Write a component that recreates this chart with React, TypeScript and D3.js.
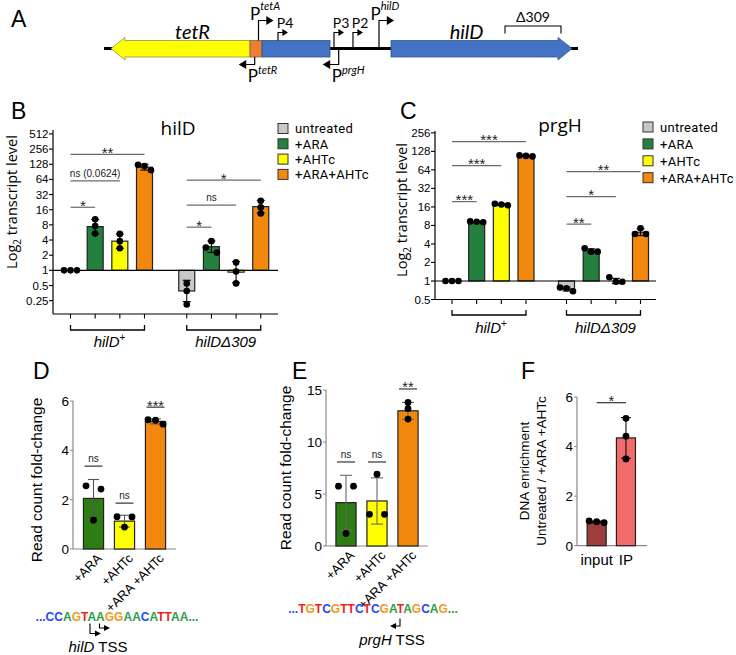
import * as d3 from "d3";

const SANS = "'Liberation Sans', Arial, Helvetica, sans-serif";
const SOFT = "'Open Sans', 'Noto Sans', sans-serif";
const LEGEND = "Roboto, 'Open Sans', sans-serif";
const DIAGRAM = "Lato, 'Open Sans', sans-serif";

// ---------- panel A: locus map (relative map units) ----------
const mapLength = 474;
const genes = [
  { name: "tetR", from: 146, to: 7, fill: "#ffff00", stroke: "#8f8f55" },
  { name: "hilD", from: 287, to: 468, fill: "#4472c4", stroke: "#2f528f" },
];
const blocks = [
  { name: "tetO", from: 146, to: 158, fill: "#ed7d31", stroke: "#8f6040" },
  { name: "tetA", from: 158, to: 226, fill: "#4472c4", stroke: "#2f528f" },
];
const promoters = [
  { label: "P", sup: "tetA", at: 154.5, strand: 1, long: true },
  { label: "P4", sup: "", at: 174, strand: 1, long: false },
  { label: "P3", sup: "", at: 230, strand: 1, long: false },
  { label: "P2", sup: "", at: 249, strand: 1, long: false },
  { label: "P", sup: "hilD", at: 275, strand: 1, long: true },
  { label: "P", sup: "tetR", at: 150.7, strand: -1, long: false },
  { label: "P", sup: "prgH", at: 234.7, strand: -1, long: false },
];
const deletion = { label: "Δ309", from: 401, to: 457 };

// ---------- panels B, C: qRT-PCR ----------
const conditions = ["untreated", "+ARA", "+AHTc", "+ARA+AHTc"];
const conditionColors = ["#c8c8c8", "#23803f", "#ffff00", "#f2880e"];
const strains = ["hilD+", "hilDΔ309"];
const log2Ticks = [0.25, 0.5, 1, 2, 4, 8, 16, 32, 64, 128, 256, 512];

const hilDLevels = [1, 7.4, 3.8, 112, 0.39, 2.95, 0.92, 18.4];
const hilDReplicates = [
  [1, 1, 1], [10.3, 7.6, 5.4], [5.3, 3.8, 2.75], [125, 118, 97],
  [0.55, 0.39, 0.21], [3.8, 2.85, 2.25], [1.44, 0.95, 0.55], [24, 17.8, 13.5],
];
const hilDTests = [
  { from: 0, to: 1, label: "*", at: 17.9 },
  { from: 0, to: 2, label: "ns (0.0624)", at: 59.6 },
  { from: 0, to: 3, label: "**", at: 202 },
  { from: 4, to: 5, label: "*", at: 7.2 },
  { from: 4, to: 6, label: "ns", at: 19.8 },
  { from: 4, to: 7, label: "*", at: 62 },
];

const prgHLevels = [1, 9.1, 17.5, 108, 0.74, 3.1, 1.0, 6.2];
const prgHReplicates = [
  [1, 1, 1], [9.0, 9.3, 9.2], [17, 18, 17.5], [106, 108, 110],
  [0.78, 0.76, 0.68], [3.4, 3.0, 3.0], [1.15, 0.97, 0.97], [7.2, 5.8, 5.8],
];
const prgHTests = [
  { from: 0, to: 1, label: "***", at: 19.5 },
  { from: 0, to: 2, label: "***", at: 75 },
  { from: 0, to: 3, label: "***", at: 185 },
  { from: 4, to: 5, label: "**", at: 8.4 },
  { from: 4, to: 6, label: "*", at: 23.5 },
  { from: 4, to: 7, label: "**", at: 60 },
];

// ---------- panels D, E: read counts ----------
const readConditions = ["+ARA", "+AHTc", "+ARA +AHTc"];
const readColors = ["#2d7d14", "#ffff00", "#f2880e"];
const hilDReads = [2.05, 1.13, 5.17];
const hilDReadReplicates = [[2.56, 2.43, 1.17], [1.31, 1.3, 0.89], [5.06, 5.24, 5.22]];
const hilDReadTests = [
  { from: 0, to: 0, label: "ns", at: 3.36 },
  { from: 1, to: 1, label: "ns", at: 1.86 },
  { from: 2, to: 2, label: "***", at: 5.75 },
];
const prgHReads = [4.17, 4.33, 13.0];
const prgHReadReplicates = [[5.75, 5.75, 1.2], [6.9, 3.05, 3.05], [13.8, 13.2, 12.2]];
const prgHReadTests = [
  { from: 0, to: 0, label: "ns", at: 8.08 },
  { from: 1, to: 1, label: "ns", at: 8.08 },
  { from: 2, to: 2, label: "**", at: 15.1 },
];

// ---------- panel F: ChIP ----------
const chipSamples = ["input", "IP"];
const chipColors = ["#9e3d3d", "#f26b6b"];
const chipEnrichment = [0.96, 4.35];
const chipReplicates = [[0.93, 1.0, 0.97], [5.14, 4.42, 3.5]];
const chipTests = [{ from: 0, to: 1, label: "*", at: 5.77 }];

// ---------- sequences ----------
const hilDSequence = "CCAGTAAGGAACATTAA";
const prgHSequence = "TGTCGTTCTCGATAGCAG";
const baseColors: Record<string, string> = { A: "#2e9b47", C: "#1f48ff", G: "#f39a1d", T: "#f01f1f" };

function spreadDots(vals: number[], y: (v: number) => number, cx: number, pair: number, triple: number) {
  const pts = vals.map((v) => ({ y: y(v) })).sort((a, b) => a.y - b.y);
  const clusters: { y: number }[][] = [];
  pts.forEach((p) => {
    const last = clusters[clusters.length - 1];
    if (last && p.y - last[last.length - 1].y < 5.5) last.push(p);
    else clusters.push([p]);
  });
  const out: { x: number; y: number }[] = [];
  clusters.forEach((c) => {
    const step = c.length === 2 ? pair : triple;
    c.forEach((p, k) => out.push({ x: cx + (k - (c.length - 1) / 2) * step, y: p.y }));
  });
  return out;
}

function TestMark({ x1, x2, y, label, fs, color }: any) {
  const star = label.startsWith("*");
  return (
    <g>
      <line x1={x1} x2={x2} y1={y} y2={y} stroke={color} strokeWidth={1.2} />
      <text x={(x1 + x2) / 2} y={star ? y + 3.5 : y - 4} textAnchor="middle"
        fontSize={star ? fs : 10} fill="#222">{label}</text>
    </g>
  );
}

function StrainLabel({ name, x, y }: any) {
  const sup = name.endsWith("+");
  return (
    <text x={x} y={y} textAnchor="middle" fontSize={15} fontStyle="italic">
      {sup ? name.slice(0, -1) : name}
      {sup && <tspan dy={-6} fontSize={10} fontStyle="normal">+</tspan>}
    </text>
  );
}

function PanelA() {
  const x = d3.scaleLinear().domain([0, mapLength]).range([104, 578]);
  const lineY = 48.5;
  const top = 40.5, bottom = 57;
  const arrowPath = (from: number, to: number, head: number) => {
    const dir = to > from ? 1 : -1;
    const a = x(from), b = x(to), hb = b - dir * head;
    return `M${a},${top}L${hb},${top}L${hb},${top - 3}L${b},${lineY}L${hb},${bottom + 3}L${hb},${bottom}L${a},${bottom}Z`;
  };
  return (
    <g fontFamily={DIAGRAM}>
      <line x1={x(0)} x2={x(mapLength)} y1={lineY} y2={lineY} stroke="#000" strokeWidth={2.8} />
      {genes.map((g) => (
        <g key={g.name}>
          <path d={arrowPath(g.from, g.to, 14)} fill={g.fill} stroke={g.stroke} strokeWidth={0.8} />
          <text x={(x(g.from) + x(g.to)) / 2 + (g.to > g.from ? -15 : 12)} y={38.5} textAnchor="middle"
            fontSize={20} fontStyle="italic">{g.name}</text>
        </g>
      ))}
      {blocks.map((b) => (
        <rect key={b.name} x={x(b.from)} y={top} width={x(b.to) - x(b.from)} height={bottom - top}
          fill={b.fill} stroke={b.stroke} strokeWidth={0.8} />
      ))}
      {promoters.map((p) => {
        const px = x(p.at);
        const onBlock = blocks.some((b) => p.at >= b.from && p.at <= b.to);
        if (p.strand > 0) {
          const base = onBlock ? top : lineY;
          const tip = p.long ? 20.5 : 32.5;
          const len = p.long ? 15 : 10;
          const hs = p.long ? 4.5 : 3.5;
          return (
            <g key={p.label + p.sup + p.at}>
              <polyline points={`${px},${base} ${px},${tip} ${px + len - hs * 1.4},${tip}`} fill="none" stroke="#000" strokeWidth={1.2} />
              <polygon points={`${px + len},${tip} ${px + len - hs * 1.6},${tip - hs} ${px + len - hs * 1.6},${tip + hs}`} />
              {p.sup ? (
                <text x={px - 8.5} y={tip - 1} fontSize={17}>
                  {p.label}
                  <tspan dy={-10} fontSize={11} fontStyle="italic">{p.sup}</tspan>
                </text>
              ) : (
                <text x={px + 7} y={28} fontSize={14} textAnchor="middle">{p.label}</text>
              )}
            </g>
          );
        }
        const base = onBlock ? bottom : lineY;
        const tip = 64.5;
        return (
          <g key={p.label + p.sup + p.at}>
            <polyline points={`${px},${base} ${px},${tip} ${px - 10},${tip}`} fill="none" stroke="#000" strokeWidth={1.2} />
            <polygon points={`${px - 16},${tip} ${px - 8.5},${tip - 4.5} ${px - 8.5},${tip + 4.5}`} />
            <text x={px - 7} y={81.5} fontSize={17}>
              {p.label}
              <tspan dy={-7.5} fontSize={11} fontStyle="italic">{p.sup}</tspan>
            </text>
          </g>
        );
      })}
      <path d={`M${x(deletion.from)},33.5V26H${x(deletion.to)}V33.5`} fill="none" stroke="#000" strokeWidth={1.1} />
      <text x={(x(deletion.from) + x(deletion.to)) / 2} y={22} textAnchor="middle" fontSize={14}>{deletion.label}</text>
    </g>
  );
}

function TranscriptPanel(props: any) {
  const { levels, replicates, tests, y, axisX, axisRight, bottomY, groupRange, title, titleX, titleY,
    legendX, legendTop, legendStep, labelX, labelY, bracketY, groupTextY } = props;
  const outer = d3.scalePoint<string>().domain(strains).range(groupRange);
  const inner = d3.scalePoint<string>().domain(conditions).range([-37, 37]);
  const cx = (i: number) => (outer(strains[Math.floor(i / 4)]) as number) + (inner(conditions[i % 4]) as number);
  const barW = 16;
  const base = y(1);
  const [top] = y.range().slice(-1);
  const ticks = log2Ticks.filter((t) => y(t) >= top - 1 && y(t) <= bottomY + 0.5);
  return (
    <g fontFamily={SANS}>
      <text x={titleX} y={titleY} textAnchor="middle" fontSize={19} fontFamily={SOFT}>{title}</text>
      <text transform={`translate(${labelX},${labelY}) rotate(-90)`} textAnchor="middle" dy="0.35em"
        fontSize={14.5} fontFamily={SOFT}>
        Log<tspan fontSize={10} dy={4}>2</tspan><tspan dy={-4}> transcript level</tspan>
      </text>
      <line x1={axisX} x2={axisX} y1={top} y2={bottomY} stroke="#000" strokeWidth={1.2} />
      {ticks.map((t) => (
        <g key={t}>
          <line x1={axisX - 4} x2={axisX} y1={y(t)} y2={y(t)} stroke="#000" strokeWidth={1.1} />
          <text x={axisX - 4.5} y={y(t)} dy="0.35em" textAnchor="end" fontSize={11.5}>{t}</text>
        </g>
      ))}
      <line x1={axisX} x2={axisRight} y1={bottomY} y2={bottomY} stroke="#000" strokeWidth={1.2} />
      {levels.map((_: number, i: number) => (
        <line key={i} x1={cx(i)} x2={cx(i)} y1={bottomY} y2={bottomY + 4.5} stroke="#000" strokeWidth={1.1} />
      ))}
      {levels.map((v: number, i: number) => {
        const yv = y(v);
        if (Math.abs(yv - base) < 0.5) return null;
        return (
          <rect key={i} x={cx(i) - barW / 2} y={Math.min(yv, base)} width={barW} height={Math.abs(yv - base)}
            fill={conditionColors[i % 4]} stroke="#222" strokeWidth={1.2} />
        );
      })}
      <line x1={axisX} x2={axisRight} y1={base} y2={base} stroke="#000" strokeWidth={1.2} />
      {levels.map((v: number, i: number) => {
        const logs = replicates[i].map(Math.log2);
        const sd = d3.deviation(logs) ?? 0;
        if (sd < 0.01) return null;
        const hi = y(2 ** (Math.log2(v) + sd));
        const lo = y(2 ** (Math.log2(v) - sd));
        return (
          <g key={i} stroke="#000" strokeWidth={1.1}>
            <line x1={cx(i)} x2={cx(i)} y1={hi} y2={lo} />
            <line x1={cx(i) - 4} x2={cx(i) + 4} y1={hi} y2={hi} />
            <line x1={cx(i) - 4} x2={cx(i) + 4} y1={lo} y2={lo} />
          </g>
        );
      })}
      {replicates.map((vals: number[], i: number) =>
        spreadDots(vals, y, cx(i), 11, 6.5).map((d, k) => <circle key={`${i}-${k}`} cx={d.x} cy={d.y} r={3.3} fill="#000" />)
      )}
      {tests.map((t: any, k: number) => (
        <TestMark key={k} x1={cx(t.from)} x2={cx(t.to)} y={y(t.at)} label={t.label} fs={15} color="#6a6a6a" />
      ))}
      {strains.map((s, g) => {
        const a = cx(g * 4), b = cx(g * 4 + 3);
        return (
          <g key={s}>
            <path d={`M${a},${bracketY - 5}V${bracketY}H${b}V${bracketY - 5}`} fill="none" stroke="#000" strokeWidth={1.3} />
            <StrainLabel name={s} x={(a + b) / 2 + 2} y={groupTextY} />
          </g>
        );
      })}
      {conditions.map((c, i) => (
        <g key={c} fontFamily={LEGEND}>
          <rect x={legendX} y={legendTop + i * legendStep - 5} width={10} height={10}
            fill={conditionColors[i]} stroke="#333" strokeWidth={1} />
          <text x={legendX + 17} y={legendTop + i * legendStep + 4.8} fontSize={13} letterSpacing={0.3}>{c}</text>
        </g>
      ))}
    </g>
  );
}

function ReadPanel(props: any) {
  const { cats, colors, values, replicates, tests, domain, yRange, xRange, axisX, axisEnd, ticks, rotate,
    labelLines, labelX, labelY, labelSize, capHalf, errColor } = props;
  const y = d3.scaleLinear().domain(domain).range(yRange);
  const x = d3.scaleBand<string>().domain(cats).range(xRange).paddingInner(0.35).paddingOuter(0.175);
  const bw = x.bandwidth();
  const cx = (i: number) => (x(cats[i]) as number) + bw / 2;
  const y0 = y(0);
  return (
    <g fontFamily={SANS}>
      <text transform={`translate(${labelX},${labelY}) rotate(-90)`} textAnchor="middle" fontSize={labelSize}>
        {labelLines.map((l: string, k: number) => (
          <tspan key={k} x={0} dy={k === 0 ? (labelLines.length > 1 ? "-0.3em" : "0.35em") : "1.3em"}>{l}</tspan>
        ))}
      </text>
      <line x1={axisX} x2={axisX} y1={y(domain[1])} y2={y0} stroke="#8a8a8a" strokeWidth={1.2} />
      <line x1={axisX} x2={axisEnd} y1={y0} y2={y0} stroke="#8a8a8a" strokeWidth={1.2} />
      {ticks.map((t: number) => (
        <g key={t}>
          <line x1={axisX - 3} x2={axisX} y1={y(t)} y2={y(t)} stroke="#8a8a8a" />
          <text x={axisX - 4} y={y(t)} dy="0.36em" textAnchor="end" fontSize={13.5}>{t}</text>
        </g>
      ))}
      {values.map((v: number, i: number) => (
        <rect key={i} x={cx(i) - bw / 2} y={y(v)} width={bw} height={y0 - y(v)} fill={colors[i]} stroke="#222" strokeWidth={1.2} />
      ))}
      {values.map((v: number, i: number) => {
        const sd = d3.deviation(replicates[i]) ?? 0;
        const hi = y(v + sd), lo = y(Math.max(0, v - sd));
        return (
          <g key={i} stroke={errColor} strokeWidth={1.1}>
            <line x1={cx(i)} x2={cx(i)} y1={hi} y2={lo} />
            <line x1={cx(i) - capHalf} x2={cx(i) + capHalf} y1={hi} y2={hi} />
            <line x1={cx(i) - capHalf} x2={cx(i) + capHalf} y1={lo} y2={lo} />
          </g>
        );
      })}
      {replicates.map((vals: number[], i: number) =>
        spreadDots(vals, y, cx(i), 15, 7.5).map((d, k) => <circle key={`${i}-${k}`} cx={d.x} cy={d.y} r={3.4} fill="#000" />)
      )}
      {tests.map((t: any, k: number) => {
        const single = t.from === t.to;
        return (
          <TestMark key={k} x1={single ? cx(t.from) - 9 : cx(t.from)} x2={single ? cx(t.to) + 9 : cx(t.to)}
            y={y(t.at)} label={t.label} fs={14.5} color="#333" />
        );
      })}
      {cats.map((c: string, i: number) =>
        rotate ? (
          <text key={c} transform={`translate(${cx(i) + 6},${y0 + 7}) rotate(-45)`} textAnchor="end" dy="0.35em" fontSize={13}>{c}</text>
        ) : (
          <text key={c} x={cx(i)} y={y0 + 19} textAnchor="middle" fontSize={15}>{c}</text>
        )
      )}
    </g>
  );
}

function Sequence({ seq, x, y }: any) {
  return (
    <text x={x} y={y} textAnchor="middle" fontSize={12} fontWeight="bold" fontFamily={SANS}>
      <tspan fill={baseColors.C}>...</tspan>
      {seq.split("").map((b: string, i: number) => (
        <tspan key={i} fill={baseColors[b]}>{b}</tspan>
      ))}
      <tspan fill={baseColors.A}>...</tspan>
    </text>
  );
}

function TssLabel({ gene, x, y }: any) {
  return (
    <text x={x} y={y} textAnchor="middle" fontSize={15} fontFamily={SANS}>
      <tspan fontStyle="italic">{gene}</tspan> TSS
    </text>
  );
}

export default function App() {
  const yB = d3.scaleLog().base(2).domain([2 ** -2.88, 2 ** 9.26]).range([314, 130]);
  const yC = d3.scaleLog().base(2).domain([0.5, 2 ** 8.1]).range([299.5, 131]);
  const letter = (t: string, lx: number, ly: number) => (
    <text x={lx} y={ly} fontSize={23} fontFamily={SANS}>{t}</text>
  );
  return (
    <svg width={736} height={655} viewBox="0 0 736 655" style={{ position: "absolute", left: 0, top: 0, background: "#fff" }}>
      {letter("A", 11, 27)}
      {letter("B", 11, 119)}
      {letter("C", 400, 119)}
      {letter("D", 33, 379)}
      {letter("E", 292, 379)}
      {letter("F", 521, 379)}
      <PanelA />
      <TranscriptPanel levels={hilDLevels} replicates={hilDReplicates} tests={hilDTests} y={yB}
        axisX={53} axisRight={278} bottomY={314} groupRange={[107.5, 223.75]}
        title="hilD" titleX={178} titleY={135} legendX={278} legendTop={128.5} legendStep={15.3}
        labelX={12} labelY={202} bracketY={330} groupTextY={347} />
      <TranscriptPanel levels={prgHLevels} replicates={prgHReplicates} tests={prgHTests} y={yC}
        axisX={435} axisRight={656} bottomY={299.5} groupRange={[489, 603.5]}
        title="prgH" titleX={560} titleY={132} legendX={643} legendTop={127} legendStep={16.9}
        labelX={402} labelY={210} bracketY={315} groupTextY={333} />
      <ReadPanel cats={readConditions} colors={readColors} values={hilDReads} replicates={hilDReadReplicates}
        tests={hilDReadTests} domain={[0, 6]} yRange={[549, 401]} xRange={[78, 171]} axisX={73} axisEnd={176}
        ticks={[0, 2, 4, 6]} rotate labelLines={["Read count fold-change"]} labelX={37} labelY={480}
        labelSize={15.5} capHalf={5.5} errColor="#555" />
      <ReadPanel cats={readConditions} colors={readColors} values={prgHReads} replicates={prgHReadReplicates}
        tests={prgHReadTests} domain={[0, 15]} yRange={[546, 390]} xRange={[330.5, 423.5]} axisX={326} axisEnd={428}
        ticks={[0, 5, 10, 15]} rotate labelLines={["Read count fold-change"]} labelX={286} labelY={468}
        labelSize={15.5} capHalf={6} errColor="#666" />
      <ReadPanel cats={chipSamples} colors={chipColors} values={chipEnrichment} replicates={chipReplicates}
        tests={chipTests} domain={[0, 6]} yRange={[545.7, 397]} xRange={[582, 640.6]} axisX={577} axisEnd={647}
        ticks={[0, 2, 4, 6]} rotate={false} labelLines={["DNA enrichment", "Untreated / +ARA +AHTc"]}
        labelX={533} labelY={471} labelSize={13.5} capHalf={5} errColor="#111" />
      <Sequence seq={hilDSequence} x={117} y={621} />
      <Sequence seq={prgHSequence} x={373} y={613} />
      <g fill="none" stroke="#000" strokeWidth={1.1}>
        <polyline points="90,623.5 90,633.5 96,633.5" />
        <polyline points="99.5,623.5 99.5,628 105,628" />
        <polyline points="400,618.5 400,626 395,626" />
      </g>
      <polygon points="101,633.5 95,630.5 95,636.5" />
      <polygon points="110,628 104,625 104,631" />
      <polygon points="390,626 396,623 396,629" />
      <TssLabel gene="hilD" x={98} y={652} />
      <TssLabel gene="prgH" x={392} y={645} />
    </svg>
  );
}
